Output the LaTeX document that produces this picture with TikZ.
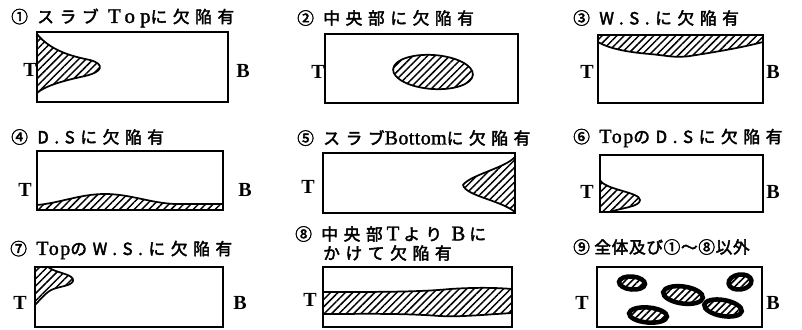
\documentclass[tikz,border=0pt]{standalone}
\usepackage{fontspec}
\usetikzlibrary{patterns.meta}
\newfontfamily\jp[LetterSpace=34,FakeBold=2.5]{Noto Sans CJK JP}
\newfontfamily\jpt[LetterSpace=4,FakeBold=2.5]{Noto Sans CJK JP}
\newfontfamily\ser{Liberation Serif}
\newfontfamily\serl[Scale=1.25,LetterSpace=25,FakeBold=1.5]{Liberation Serif}
\newfontfamily\serm[Scale=1.2,LetterSpace=8,FakeBold=1.5]{Liberation Serif}
\newfontfamily\sers[Scale=1.2,LetterSpace=2,FakeBold=1.5]{Liberation Serif}
\begin{document}
\begin{tikzpicture}[x=0.75pt,y=-0.75pt,
  box/.style={draw,line width=1.7pt},
  hatch/.style={draw,line width=1.3pt,pattern={Lines[angle=45,distance=3.9pt,line width=1.1pt]}},
  blob/.style={draw,line width=3.4pt,pattern={Lines[angle=45,distance=3.6pt,line width=1.2pt]}},
  ttl/.style={anchor=west,inner sep=0pt,font=\jp\fontsize{12.5}{15}\selectfont},
  lab/.style={inner sep=0pt,font=\ser\bfseries\fontsize{15}{15}\selectfont}]
\useasboundingbox (0,0) rectangle (802,329);
% ---- titles
\node[ttl] (t1) at (11,18) {① スラブ {\serl Top}に欠陥有};
\node[ttl] (t2) at (297,18) {② 中央部に欠陥有};
\node[ttl] (t3) at (573,18) {③ W.S.に欠陥有};
\node[ttl] (t4) at (11,137) {④ D.Sに欠陥有};
\node[ttl] (t5) at (297,138) {⑤ スラブ{\sers Bottom}に欠陥有};
\node[ttl] (t6) at (573,138) {⑥ {\serm Top}のD.Sに欠陥有};
\node[ttl] (t7) at (10,250) {⑦ {\serm Top}のW.S.に欠陥有};
\node[ttl] (t8) at (295,234) {⑧ 中央部\hspace{3pt}{\serl T}\hspace{3pt}より {\serl B}\hspace{3pt}に};
\node[ttl] (t8b) at (323,253) {かけて欠陥有};
\node[ttl,font=\jpt\fontsize{12.5}{15}\selectfont] (t9) at (573,247) {⑨ 全体及び①〜⑧以外};
% ---- panel 1
\draw[hatch] (37,34) .. controls (50,50) and (70,56) .. (90,60) .. controls (105,64) and (103,72) .. (85,76) .. controls (62,81) and (45,86) .. (37,93) -- cycle;
\draw[box] (37,32) rectangle (228,102);
\node[lab] (T1) at (30,70) {T};
\node[lab] (B1) at (243,71) {B};
% ---- panel 2
\draw[hatch,rotate around={-4:(433,72)}] (433,72) ellipse (40 and 17);
\draw[box] (325,34) rectangle (518,103);
\node[lab] (T2) at (318,72) {T};
% ---- panel 3
\draw[hatch] (598,35) -- (763,35) -- (763,42) .. controls (740,48) and (715,52) .. (690,56) .. controls (675,58) and (670,56) .. (650,54) .. controls (625,52) and (608,48) .. (598,42) -- cycle;
\draw[box] (598,35) rectangle (763,103);
\node[lab] (T3) at (587,72) {T};
\node[lab] (B3) at (773,72) {B};
% ---- panel 4
\draw[hatch] (37,210) -- (37,205) .. controls (60,203) and (80,194) .. (105,194) .. controls (130,194) and (150,203) .. (175,204) -- (223,204) -- (223,210) -- cycle;
\draw[box] (37,151) rectangle (223,210);
\node[lab] (T4) at (25,190) {T};
\node[lab] (B4) at (245,190) {B};
% ---- panel 5
\draw[hatch] (515,157) .. controls (505,168) and (470,175) .. (463,185) .. controls (466,196) and (500,200) .. (515,212) -- cycle;
\draw[box] (323,153) rectangle (515,213);
\node[lab] (T5) at (308,187) {T};
% ---- panel 6
\draw[hatch] (600,180) .. controls (605,190) and (640,192) .. (640,200) .. controls (640,207) and (620,208) .. (610,212) -- (600,212) -- cycle;
\draw[box] (600,155) rectangle (763,212);
\node[lab] (T6) at (587,192) {T};
\node[lab] (B6) at (773,192) {B};
% ---- panel 7
\draw[hatch] (35,267) -- (48,267) .. controls (55,273) and (75,274) .. (73,281) .. controls (71,287) and (55,286) .. (48,292) .. controls (42,297) and (38,302) .. (35,305) -- cycle;
\draw[box] (35,267) rectangle (223,327);
\node[lab] (T7) at (20,303) {T};
\node[lab] (B7) at (240,303) {B};
% ---- panel 8
\draw[hatch] (323,292) .. controls (380,292) and (420,292) .. (450,289) .. controls (480,287) and (500,288) .. (512,289) -- (512,313) .. controls (480,315) and (460,317) .. (440,316) .. controls (400,313) and (360,314) .. (323,314) -- cycle;
\draw[box] (323,267) rectangle (512,327);
\node[lab] (T8) at (310,300) {T};
% ---- panel 9
\draw[blob,rotate around={-5:(632,283)}] (632,283) ellipse (13 and 6.5);
\draw[blob,rotate around={-8:(683,295)}] (683,295) ellipse (20 and 8.5);
\draw[blob,rotate around={8:(740,282)}] (740,282) ellipse (11.5 and 7.5);
\draw[blob,rotate around={-5:(648,315)}] (648,315) ellipse (19 and 7.5);
\draw[blob,rotate around={-10:(723,308)}] (723,308) ellipse (19 and 8);
\draw[box] (597,267) rectangle (762,327);
\node[lab] (T9) at (582,303) {T};
\node[lab] (B9) at (773,303) {B};
\end{tikzpicture}
\end{document}
